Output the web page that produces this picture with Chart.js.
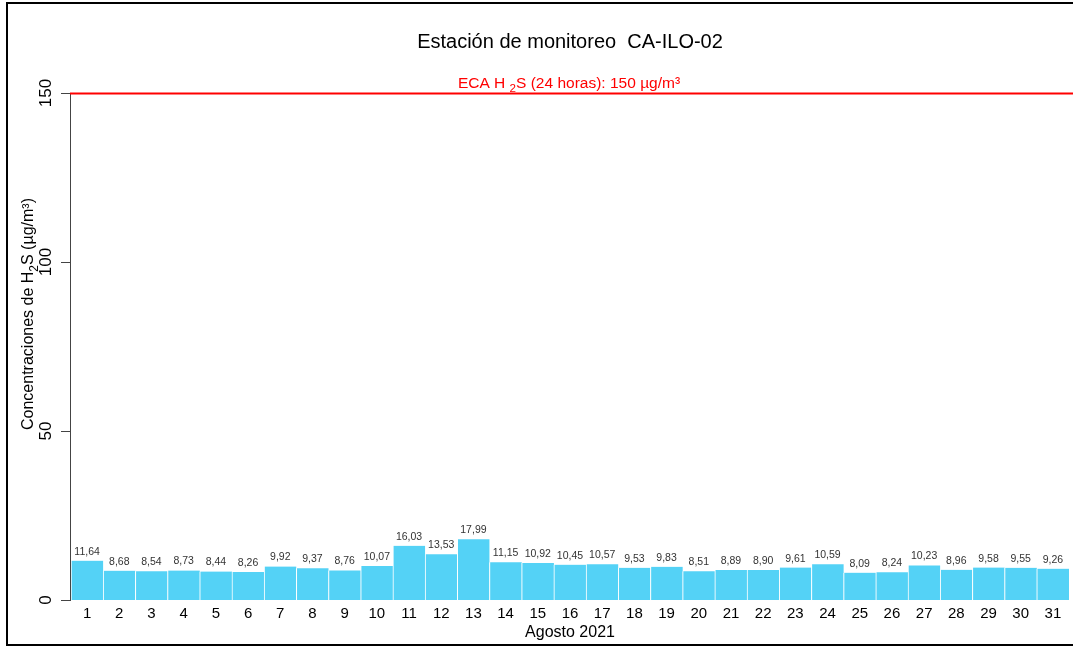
<!DOCTYPE html>
<html>
<head>
<meta charset="utf-8">
<script src="https://cdn.jsdelivr.net/npm/chart.js@4.4.1/dist/chart.umd.min.js"></script>
<style>
  html, body { margin: 0; padding: 0; background: #fff; }
  #wrap { width: 1073px; height: 646px; position: relative; }
</style>
</head>
<body>
<div id="wrap"><canvas id="h2sChart"></canvas></div>
<script>
// Dias de agosto 2021
const days = ['1','2','3','4','5','6','7','8','9','10','11','12','13','14','15','16',
  '17','18','19','20','21','22','23','24','25','26','27','28','29','30','31'];

// Concentraciones diarias de H2S (µg/m³)
const h2sValues = [11.64, 8.68, 8.54, 8.73, 8.44, 8.26, 9.92, 9.37, 8.76, 10.07, 16.03,
  13.53, 17.99, 11.15, 10.92, 10.45, 10.57, 9.53, 9.83, 8.51, 8.89, 8.90, 9.61, 10.59,
  8.09, 8.24, 10.23, 8.96, 9.58, 9.55, 9.26];

const yTicks = [0, 50, 100, 150];
const ecaLimit = 150;

const FONT = '"Liberation Sans", Arial, sans-serif';

// draws text pieces, some of them as subscript
function drawRich(ctx, parts, x, y, size, align) {
  let total = 0;
  parts.forEach(p => {
    ctx.font = (p.sub ? size * 0.75 : size) + 'px ' + FONT;
    total += ctx.measureText(p.t).width;
  });
  let cx = align === 'center' ? x - total / 2 : x;
  ctx.textAlign = 'left';
  parts.forEach(p => {
    ctx.font = (p.sub ? size * 0.75 : size) + 'px ' + FONT;
    ctx.fillText(p.t, cx, p.sub ? y + size * 0.3 : y);
    cx += ctx.measureText(p.t).width;
  });
}

const decorations = {
  id: 'decorations',
  afterDatasetsDraw(chart) {
    const { ctx, chartArea, scales } = chart;
    const yScale = scales.y;
    const xScale = scales.x;
    const midX = (chartArea.left + chartArea.right) / 2;
    ctx.save();

    // value labels
    ctx.fillStyle = '#333';
    ctx.font = '10.5px ' + FONT;
    ctx.textAlign = 'center';
    ctx.textBaseline = 'alphabetic';
    h2sValues.forEach((v, i) => {
      const x = xScale.getPixelForValue(i);
      const y = yScale.getPixelForValue(v);
      ctx.fillText(v.toFixed(2).replace('.', ','), x, y - 6);
    });

    // y axis
    ctx.strokeStyle = '#444';
    ctx.lineWidth = 1;
    ctx.beginPath();
    ctx.moveTo(chartArea.left - 0.5, yScale.getPixelForValue(150));
    ctx.lineTo(chartArea.left - 0.5, yScale.getPixelForValue(0));
    yTicks.forEach(t => {
      const y = Math.round(yScale.getPixelForValue(t)) + 0.5;
      ctx.moveTo(chartArea.left - 10, y);
      ctx.lineTo(chartArea.left, y);
    });
    ctx.stroke();

    // y tick labels, rotated
    ctx.fillStyle = '#000';
    ctx.font = '17px ' + FONT;
    yTicks.forEach(t => {
      const y = yScale.getPixelForValue(t);
      ctx.save();
      ctx.translate(51, y);
      ctx.rotate(-Math.PI / 2);
      ctx.textAlign = 'center';
      ctx.textBaseline = 'alphabetic';
      ctx.fillText(String(t), 0, 0);
      ctx.restore();
    });

    // x tick labels
    ctx.font = '15px ' + FONT;
    ctx.textAlign = 'center';
    ctx.textBaseline = 'middle';
    days.forEach((d, i) => {
      ctx.fillText(d, xScale.getPixelForValue(i), chartArea.bottom + 14);
    });

    // x title
    ctx.font = '16px ' + FONT;
    ctx.fillText('Agosto 2021', midX, chartArea.bottom + 33);

    // title
    ctx.font = '20px ' + FONT;
    ctx.fillText('Estación de monitoreo  CA-ILO-02', midX, 42);

    // ECA line
    const yLim = Math.round(yScale.getPixelForValue(ecaLimit)) + 0.5;
    ctx.strokeStyle = '#ff0000';
    ctx.lineWidth = 2;
    ctx.beginPath();
    ctx.moveTo(chartArea.left - 1, yLim);
    ctx.lineTo(chart.width, yLim);
    ctx.stroke();

    ctx.fillStyle = '#ff0000';
    ctx.textBaseline = 'alphabetic';
    drawRich(ctx, [
      { t: 'ECA H ' },
      { t: '2', sub: true },
      { t: 'S (24 horas): 150 µg/m³' }
    ], 569, yLim - 6, 15.5, 'center');

    // y title, rotated
    ctx.fillStyle = '#000';
    ctx.save();
    ctx.translate(33, 314);
    ctx.rotate(-Math.PI / 2);
    drawRich(ctx, [
      { t: 'Concentraciones de H' },
      { t: '2', sub: true },
      { t: 'S (µg/m³)' }
    ], 0, 0, 16, 'center');
    ctx.restore();

    // outer frame
    ctx.strokeStyle = '#000';
    ctx.lineWidth = 2;
    ctx.strokeRect(7, 3, 1100, 642);

    ctx.restore();
  }
};

const ctx = document.getElementById('h2sChart').getContext('2d');
const h2sChart = new Chart(ctx, {
  type: 'bar',
  data: {
    labels: days,
    datasets: [{
      data: h2sValues,
      backgroundColor: '#54d2f6',
      borderColor: '#ffffff',
      borderWidth: { left: 1, right: 0, top: 0, bottom: 0 },
      borderSkipped: false,
      categoryPercentage: 1,
      barPercentage: 1
    }]
  },
  options: {
    responsive: true,
    maintainAspectRatio: false,
    animation: false,
    layout: { padding: { left: 71, right: 4, top: 93, bottom: 46 } },
    plugins: {
      legend: { display: false },
      tooltip: { enabled: false }
    },
    scales: {
      x: { display: false, offset: true },
      y: { display: false, min: 0, max: 150 }
    }
  },
  plugins: [decorations]
});
</script>
</body>
</html>
